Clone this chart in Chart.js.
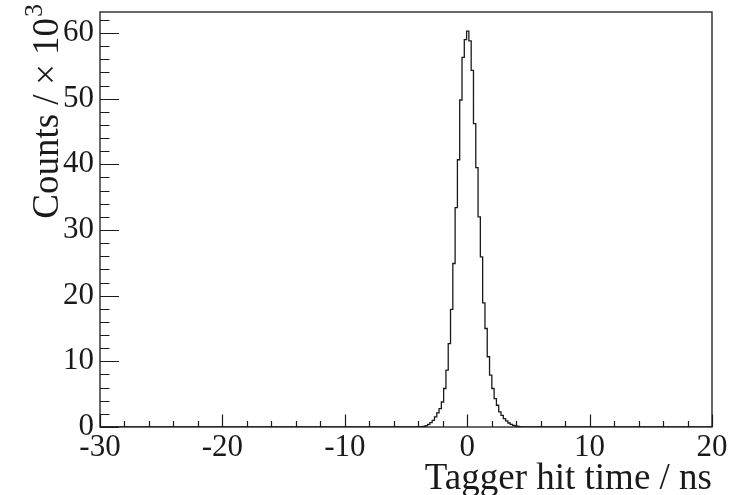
<!DOCTYPE html>
<html><head><meta charset="utf-8">
<script src="https://cdn.jsdelivr.net/npm/chart.js@4"></script>
<style>html,body{margin:0;padding:0;background:#fff}#wrap{width:729px;height:495px;position:relative}</style>
</head><body><div id="wrap"><canvas id="c" width="729" height="495"></canvas></div>
<script>
// ---- data (counts in thousands) ----
const xRange = [-30, 20];
const yRange = [0, 63.2];
const xMajorTicks = [-30, -20, -10, 0, 10, 20];
const yMajorTicks = [0, 10, 20, 30, 40, 50, 60];
const xMinorStep = 2;
const yMinorStep = 2;
const binWidth = 0.1875;
const firstBinEdge = -3.8;
const counts = [
  0.05, 0.10, 0.21, 0.41, 0.67, 1.02, 1.53, 2.14, 2.81, 3.81,
  5.86, 8.65, 12.7, 17.9, 24.9, 33.4, 40.7, 49.8, 56.3, 59.0,
  60.3, 58.8, 54.3, 46.2, 39.5, 32.0, 25.9, 18.9, 15.0, 10.7,
  7.89, 5.86, 4.33, 3.31, 2.29, 1.78, 1.28, 0.92, 0.61, 0.41,
  0.26, 0.15, 0.08, 0.04
];
const xTitle = 'Tagger hit time / ns';
const yTitleMain = 'Counts / \u00d7 10';
const yTitleSup = '3';

// ---- build histogram points (left bin edges, stepped) ----
const points = [{x: xRange[0], y: 0}];
counts.forEach((c, i) => points.push({x: firstBinEdge + i * binWidth, y: c}));
points.push({x: firstBinEdge + counts.length * binWidth, y: 0});
points.push({x: xRange[1], y: 0});

const FONT = '"Liberation Serif", "Times New Roman", serif';
const INK = '#1a1a1a';

const framePlugin = {
  id: 'rootFrame',
  afterDraw(chart) {
    const {ctx, chartArea: a, scales: {x, y}} = chart;
    ctx.save();
    ctx.strokeStyle = INK;
    ctx.lineWidth = 1.3;
    ctx.strokeRect(a.left, a.top, a.right - a.left, a.bottom - a.top);
    ctx.lineWidth = 1.2;
    ctx.beginPath();
    for (let v = yRange[0]; v <= yRange[1] + 1e-9; v += yMinorStep) {
      const major = yMajorTicks.includes(Math.round(v * 1000) / 1000);
      const py = Math.round(y.getPixelForValue(v)) + 0.5;
      ctx.moveTo(a.left, py);
      ctx.lineTo(a.left + (major ? 19 : 9.5), py);
    }
    for (let v = xRange[0]; v <= xRange[1] + 1e-9; v += xMinorStep) {
      const major = xMajorTicks.includes(Math.round(v * 1000) / 1000);
      const px = Math.round(x.getPixelForValue(v)) + 0.5;
      ctx.moveTo(px, a.bottom);
      ctx.lineTo(px, a.bottom - (major ? 12.5 : 6));
    }
    ctx.stroke();
    ctx.fillStyle = INK;
    ctx.font = '37px ' + FONT;
    ctx.textAlign = 'right';
    ctx.textBaseline = 'alphabetic';
    ctx.fillText(xTitle, a.right, 489);
    // y title, end-aligned at the top of the axis (ROOT style)
    ctx.save();
    ctx.font = '37px ' + FONT;
    const wMain = ctx.measureText(yTitleMain).width;
    ctx.font = '26px ' + FONT;
    const wSup = ctx.measureText(yTitleSup).width;
    ctx.translate(58, 4 + wMain + wSup + 1);
    ctx.rotate(-Math.PI / 2);
    ctx.textAlign = 'left';
    ctx.font = '37px ' + FONT;
    ctx.fillText(yTitleMain, 0, 0);
    ctx.font = '26px ' + FONT;
    ctx.fillText(yTitleSup, wMain + 1, -16);
    ctx.restore();
    ctx.restore();
  }
};

new Chart(document.getElementById('c'), {
  type: 'line',
  data: {
    datasets: [{
      data: points,
      stepped: 'before',
      borderColor: INK,
      borderWidth: 1.3,
      pointRadius: 0,
      fill: false
    }]
  },
  options: {
    responsive: false,
    animation: false,
    devicePixelRatio: 1,
    layout: {padding: {left: 0, right: 17, top: 12, bottom: 0}},
    plugins: {legend: {display: false}, tooltip: {enabled: false}},
    scales: {
      x: {
        type: 'linear', min: xRange[0], max: xRange[1],
        afterBuildTicks: s => { s.ticks = xMajorTicks.map(v => ({value: v})); },
        afterFit: s => { s.height = 68; s.paddingLeft = 0; s.paddingRight = 0; },
        grid: {display: false, drawTicks: false},
        border: {display: false},
        ticks: {
          font: {family: FONT, size: 31}, color: INK, padding: 2,
          maxRotation: 0, autoSkip: false,
          callback: v => String(v)
        }
      },
      y: {
        type: 'linear', min: yRange[0], max: yRange[1],
        afterBuildTicks: s => { s.ticks = yMajorTicks.map(v => ({value: v})); },
        afterFit: s => { s.width = 100; s.paddingTop = 0; s.paddingBottom = 0; },
        grid: {display: false, drawTicks: false},
        border: {display: false},
        ticks: {
          font: {family: FONT, size: 31}, color: INK, padding: 6,
          callback: v => String(v)
        }
      }
    }
  },
  plugins: [framePlugin]
});
</script>
</body></html>
